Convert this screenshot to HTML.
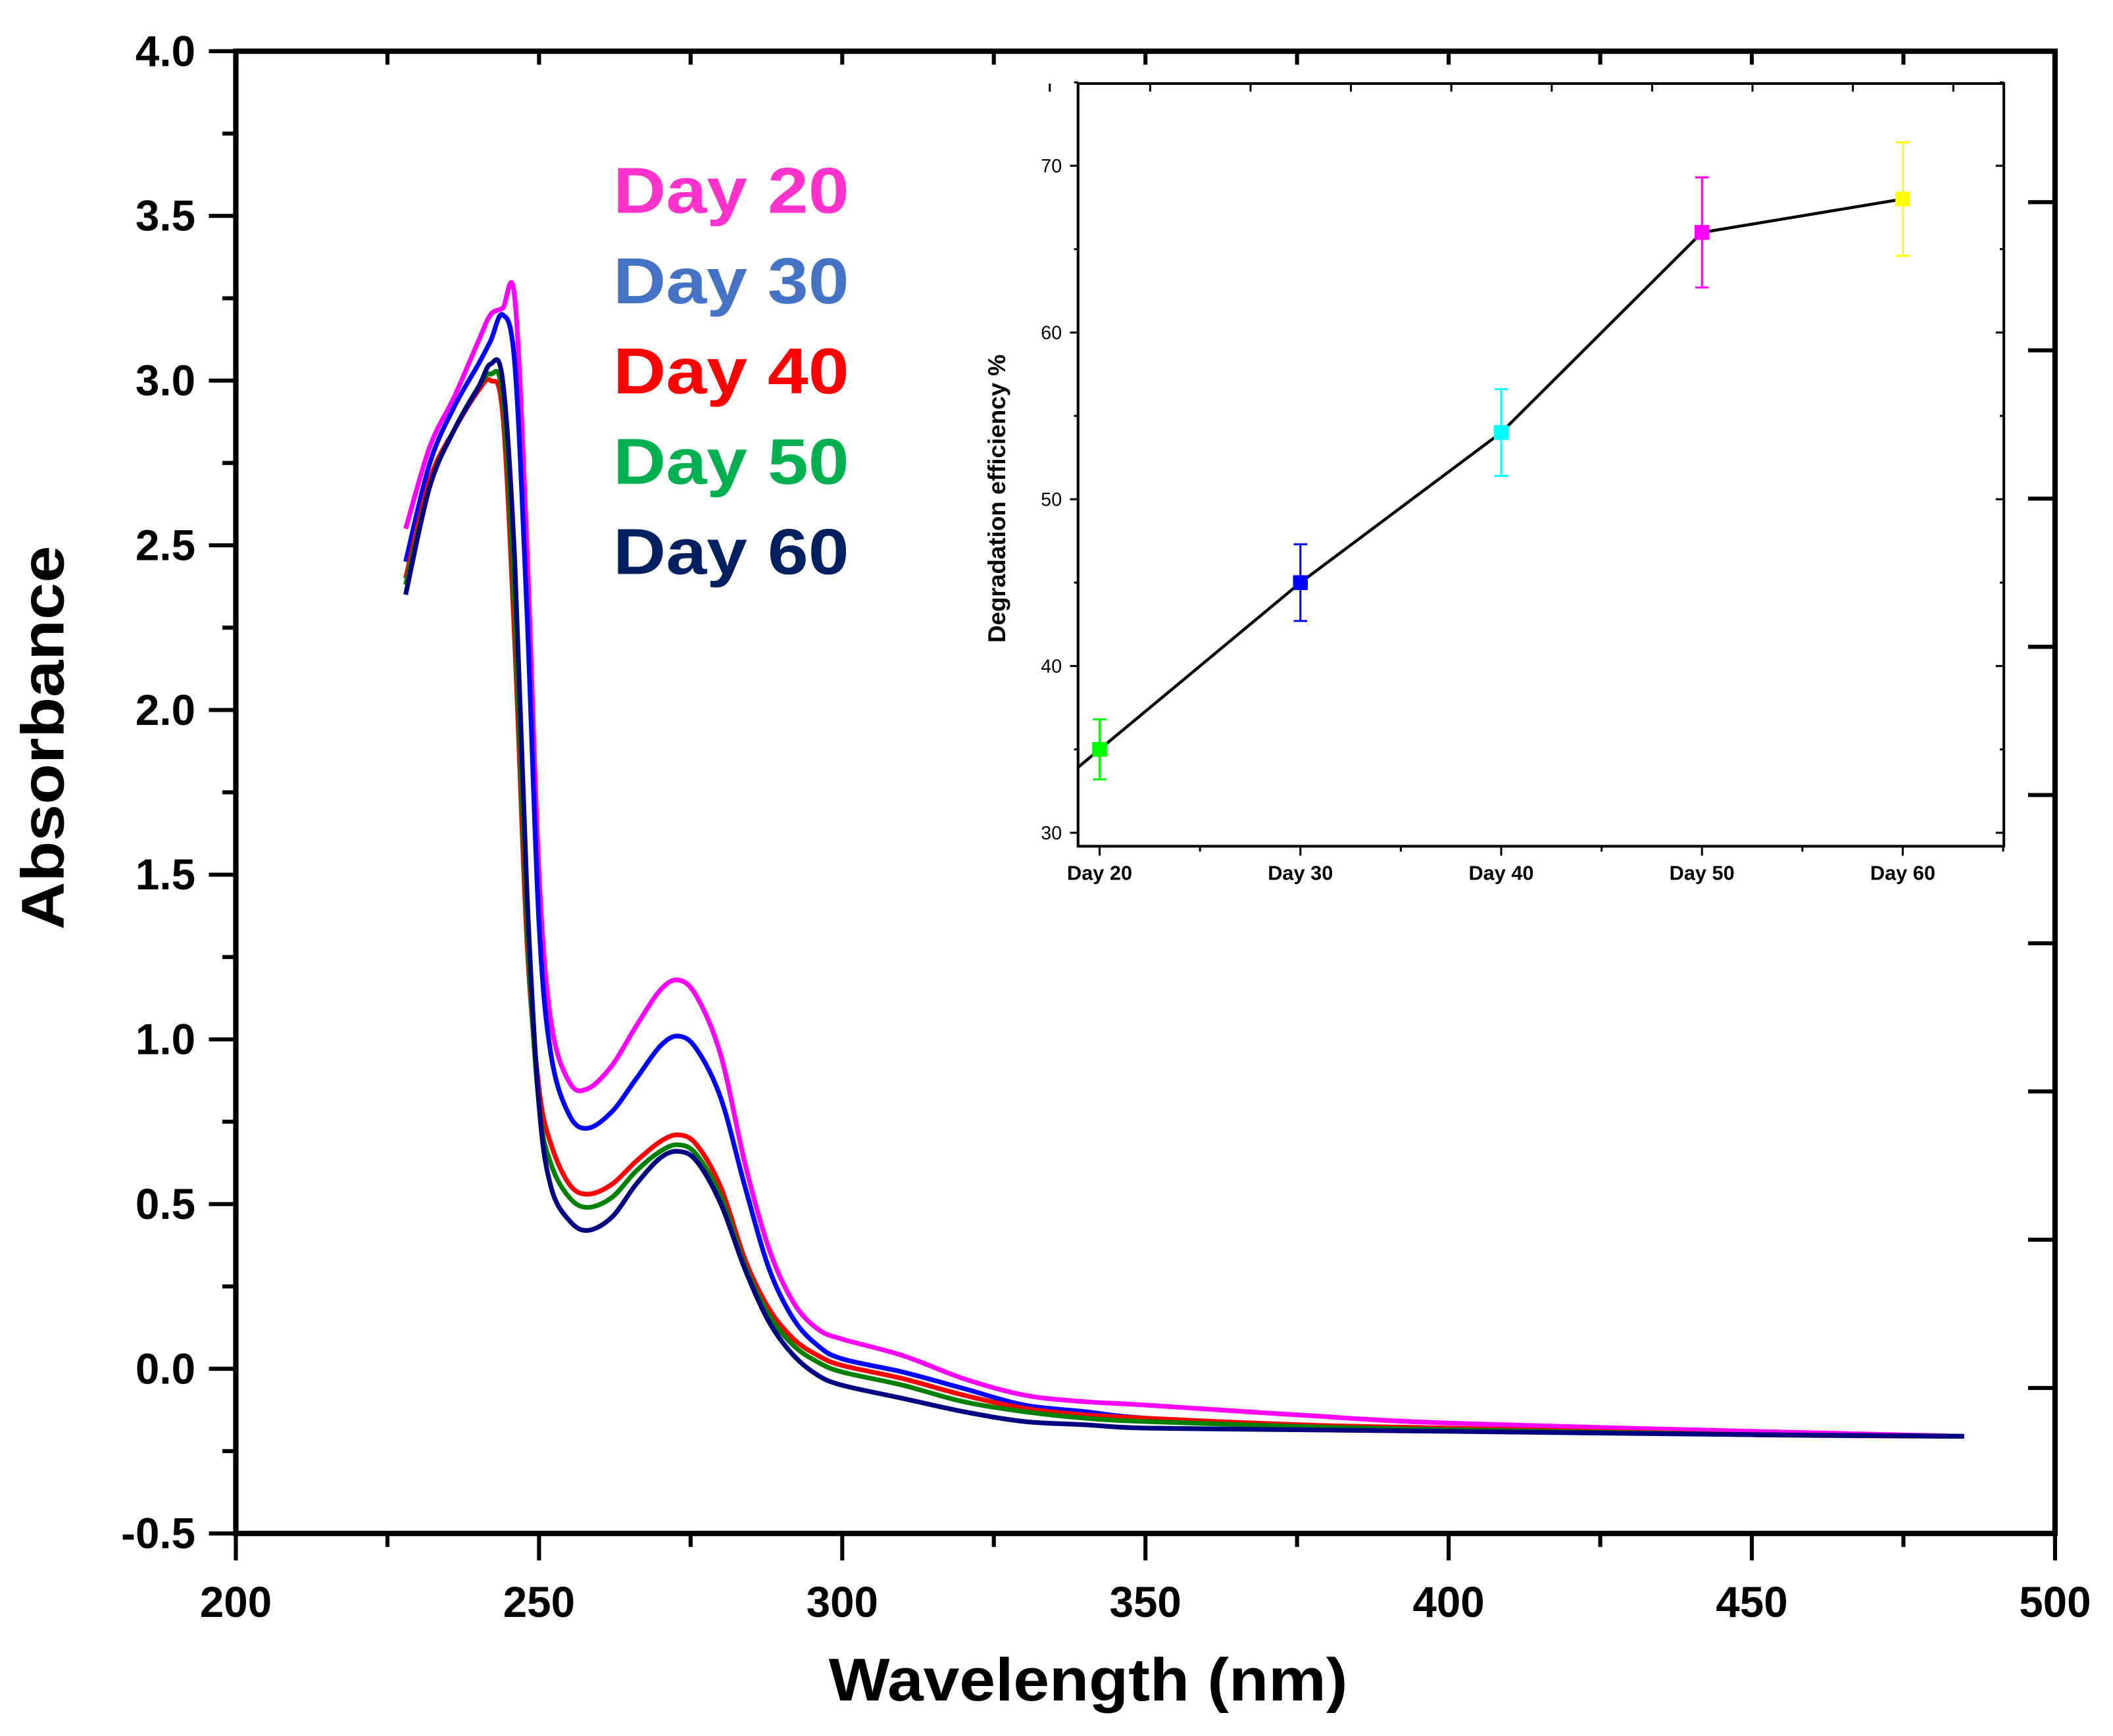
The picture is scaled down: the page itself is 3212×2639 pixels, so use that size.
<!DOCTYPE html>
<html><head><meta charset="utf-8"><style>
html,body{margin:0;padding:0;background:#fff}
svg{display:block}
text{font-family:"Liberation Sans",Arial,sans-serif}
</style></head><body>
<svg id="chart" width="3212" height="2639" viewBox="0 0 1568 1288.3" xmlns="http://www.w3.org/2000/svg">
<rect width="1568" height="1288.3" fill="#fff"/>
<g id="main"></g>
<g id="inset"></g>
</svg>
<script>
const wavelengths=[228,232,236,240,242,244,246,248,250,252,255,258,262,266,270,273,276,280,284,288,292,296,300,310,320,330,340,350,375,400,450,485];
const day20=[2.55,2.8,2.95,3.12,3.2,3.22,3.25,2.5,1.5,1.05,0.87,0.85,0.92,1.04,1.15,1.18,1.13,0.95,0.62,0.36,0.2,0.12,0.09,0.04,-0.03,-0.08,-0.10,-0.11,-0.14,-0.165,-0.19,-0.205];
const day30=[2.45,2.75,2.92,3.05,3.12,3.2,3.05,2.3,1.35,0.95,0.77,0.73,0.78,0.88,0.98,1.01,0.97,0.82,0.55,0.3,0.15,0.07,0.03,-0.01,-0.06,-0.11,-0.13,-0.15,-0.17,-0.185,-0.2,-0.205];
const day40=[2.4,2.7,2.85,2.97,3.0,2.9,2.2,1.3,0.85,0.68,0.56,0.53,0.56,0.63,0.69,0.71,0.68,0.55,0.33,0.18,0.09,0.04,0.01,-0.03,-0.08,-0.12,-0.14,-0.15,-0.17,-0.18,-0.2,-0.205];
const day50=[2.38,2.68,2.85,2.98,3.02,2.95,2.3,1.35,0.8,0.62,0.52,0.49,0.52,0.6,0.66,0.68,0.65,0.52,0.31,0.16,0.07,0.02,-0.01,-0.05,-0.1,-0.13,-0.15,-0.16,-0.175,-0.185,-0.2,-0.205];
const day60=[2.35,2.68,2.85,2.98,3.05,3.0,2.45,1.45,0.8,0.55,0.45,0.42,0.46,0.56,0.64,0.66,0.63,0.5,0.3,0.14,0.04,-0.02,-0.05,-0.09,-0.13,-0.16,-0.17,-0.18,-0.185,-0.19,-0.2,-0.205];
const xTicks=[200,250,300,350,400,450,500];
const yTicks=[-0.5,0.0,0.5,1.0,1.5,2.0,2.5,3.0,3.5,4.0];
const insetCats=["Day 20","Day 30","Day 40","Day 50","Day 60"];
const insetVals=[35,45,54,66,68];
const insetErr=[1.8,2.3,2.6,3.3,3.4];
const insetTicks=[30,40,50,60,70];

const NS="http://www.w3.org/2000/svg";
function mk(parent,tag,attrs,txt){const e=document.createElementNS(NS,tag);for(const k in attrs)e.setAttribute(k,attrs[k]);if(txt!==undefined)e.textContent=txt;parent.appendChild(e);return e;}
const L=175,R=1525,T=38,B=1138;
const xs=v=>L+(v-200)/300*(R-L);
const ys=v=>B-(v+0.5)/4.5*(B-T);
const main=document.getElementById('main');

const frame=mk(main,'rect',{x:L,y:T,width:R-L,height:B-T,fill:'none',stroke:'#000','stroke-width':4});


for(let v=200;v<=500;v+=25){
 const major=v%50===0;
 const t=mk(main,'line',{x1:xs(v),x2:xs(v),y1:B,y2:B+(major?20:10),stroke:'#000','stroke-width':3});
 
 
 if(v<500){const tt=mk(main,'line',{x1:xs(v),x2:xs(v),y1:T,y2:T+10,stroke:'#000','stroke-width':3});
 
 }
}
xTicks.forEach(v=>{
 const t=mk(main,'text',{x:xs(v),y:B+62,'text-anchor':'middle','font-size':32,'font-weight':'bold'},String(v));
 
 
});
for(let v=-0.5;v<=4.0001;v+=0.25){
 const major=Math.abs(v*2-Math.round(v*2))<1e-6;
 const t=mk(main,'line',{x1:L-(major?20:10),x2:L,y1:ys(v),y2:ys(v),stroke:'#000','stroke-width':3});
 
 
}
yTicks.forEach(v=>{
 const t=mk(main,'text',{x:L-30,y:ys(v)+11,'text-anchor':'end','font-size':32,'font-weight':'bold'},v.toFixed(1));
 
 
});
for(let y=150;y<=1030;y+=110){
 const t=mk(main,'line',{x1:R-20,x2:R,y1:y,y2:y,stroke:'#000','stroke-width':3});
 
 
}
const xt=mk(main,'text',{x:615,y:1262,'font-size':45,'font-weight':'bold',textLength:385,lengthAdjust:'spacingAndGlyphs'},'Wavelength (nm)');


const yt=mk(main,'text',{x:0,y:0,transform:'translate(47,690) rotate(-90)','font-size':45,'font-weight':'bold',textLength:285,lengthAdjust:'spacingAndGlyphs'},'Absorbance');



function smooth(pts){let d='M'+pts[0][0]+','+pts[0][1];for(let i=0;i<pts.length-1;i++){const p0=pts[i-1]||pts[i],p1=pts[i],p2=pts[i+1],p3=pts[i+2]||p2;const c1=[p1[0]+(p2[0]-p0[0])/6,p1[1]+(p2[1]-p0[1])/6],c2=[p2[0]-(p3[0]-p1[0])/6,p2[1]-(p3[1]-p1[1])/6];d+=`C${c1[0].toFixed(1)},${c1[1].toFixed(1)} ${c2[0].toFixed(1)},${c2[1].toFixed(1)} ${p2[0].toFixed(1)},${p2[1].toFixed(1)}`;}return d;}
const series=[[day20,'#ff00ff','day-20'],[day30,'#0000ff','day-30'],[day40,'#ff0000','day-40'],[day50,'#008000','day-50'],[day60,'#000080','day-60']];
series.forEach(([vals,col,nm])=>{
 const p=mk(main,'path',{d:smooth(wavelengths.map((w,i)=>[xs(w),ys(vals[i])])),fill:'none',stroke:col,'stroke-width':3.5,'stroke-linejoin':'round'});
 
 
});
const leg=[['Day 20','#ff33cc'],['Day 30','#4472c4'],['Day 40','#ff0000'],['Day 50','#00b050'],['Day 60','#002060']];
leg.forEach(([t,c],i)=>{
 const e=mk(main,'text',{x:455,y:158+i*67,'font-size':48,'font-weight':'bold',fill:c,textLength:175,lengthAdjust:'spacingAndGlyphs'},t);
 
 
});

const ins=document.getElementById('inset');
const IL=800,IR=1487,IT=62,IB=628;
const ix=i=>816+i*149;
const iy=v=>618-(v-30)/40*495;
const ibg=mk(ins,'rect',{x:IL,y:IT,width:IR-IL,height:IB-IT,fill:'#fff',stroke:'#000','stroke-width':2});


for(let v=30;v<=75;v+=5){
 const major=v%10===0;
 const t=mk(ins,'line',{x1:IL-(major?6:3),x2:IL,y1:iy(v),y2:iy(v),stroke:'#000','stroke-width':1.5});
 
 
 const t2=mk(ins,'line',{x1:IR-(major?6:3),x2:IR,y1:iy(v),y2:iy(v),stroke:'#000','stroke-width':1.5});
 
 
}
insetTicks.forEach(v=>{
 const t=mk(ins,'text',{x:IL-12,y:iy(v)+5,'text-anchor':'end','font-size':14},String(v));
 
 
});
for(let k=0;k<10;k++){
 const x=816+k*74.5;if(x>IR)break;
 const t=mk(ins,'line',{x1:x,x2:x,y1:IB,y2:IB+(k%2?4:7),stroke:'#000','stroke-width':1.5});
 
 
 const t2=mk(ins,'line',{x1:x-37,x2:x-37,y1:IT,y2:IT+6,stroke:'#000','stroke-width':1.5});
 
 
}
insetCats.forEach((c,i)=>{
 const t=mk(ins,'text',{x:ix(i),y:IB+25,'text-anchor':'middle','font-size':15,'font-weight':'bold'},c);
 
 
});
const iyt=mk(ins,'text',{x:0,y:0,transform:'translate(746,370) rotate(-90)','text-anchor':'middle','font-size':18,'font-weight':'bold'},'Degradation efficiency %');


const slope=(insetVals[1]-insetVals[0])/149;
let pts=[[IL,iy(insetVals[0]-slope*(ix(0)-IL))]].concat(insetVals.map((v,i)=>[ix(i),iy(v)]));
const il=mk(ins,'polyline',{points:pts.map(p=>p.join(',')).join(' '),fill:'none',stroke:'#000','stroke-width':2.2});


const pc=['#00ff00','#0000ff','#00ffff','#ff00ff','#ffff00'];
insetVals.forEach((v,i)=>{
 const x=ix(i),c=pc[i];
 const g=mk(ins,'g',{});
 
 
 mk(g,'line',{x1:x,x2:x,y1:iy(v+insetErr[i]),y2:iy(v-insetErr[i]),stroke:c,'stroke-width':1.5});
 mk(g,'line',{x1:x-5,x2:x+5,y1:iy(v+insetErr[i]),y2:iy(v+insetErr[i]),stroke:c,'stroke-width':1.5});
 mk(g,'line',{x1:x-5,x2:x+5,y1:iy(v-insetErr[i]),y2:iy(v-insetErr[i]),stroke:c,'stroke-width':1.5});
 mk(g,'rect',{x:x-5.5,y:iy(v)-5.5,width:11,height:11,fill:c});
});
</script>
</body></html>
